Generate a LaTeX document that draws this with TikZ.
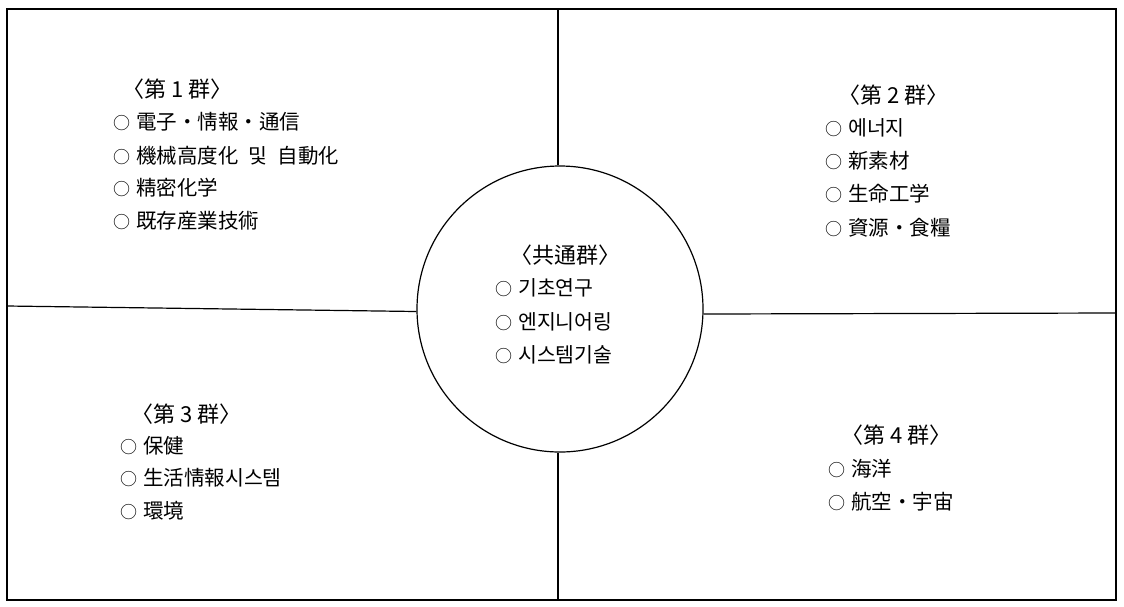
\documentclass[tikz,border=0pt]{standalone}
\usepackage{fontspec}
\setmainfont{Noto Sans CJK KR}
\begin{document}
\begin{tikzpicture}[x=1pt,y=-1pt,
  frame/.style={draw=black,line width=1.3pt},
  sep/.style={draw=black,line width=1.2pt},
  ttl/.style={anchor=west,inner sep=0pt,font=\fontsize{22}{22}\selectfont},
  itm/.style={anchor=west,inner sep=0pt,font=\fontsize{20.5}{21}\selectfont}]
\useasboundingbox (0,0) rectangle (1124,606);
\newcommand{\mk}{{\fontsize{17}{17}\selectfont ○}\hspace{6pt}}
\newcommand{\nsp}{\hspace{5pt}}
% frame
\coordinate (tl) at (7,9);
\coordinate (br) at (1116,600);
\draw[frame] (tl) rectangle (br);
% circle
\node[draw=black,line width=1.2pt,circle,minimum size=286pt,inner sep=0pt] (circ) at (560,309) {};
\coordinate (topm) at (558,9);
\coordinate (botm) at (558,600);
\coordinate (lft) at (7,306);
\coordinate (rgt) at (1116,313);
\draw[sep] (topm) -- (topm |- circ.north);
\draw[sep] (botm) -- (botm |- circ.south);
\draw[sep] (lft) -- (circ.181);
\draw[sep] (rgt) -- (circ.-2);
% group 1
\node[ttl] (g1) at (122,89) {〈第\nsp{}1\nsp{}群〉};
\node[itm] (g1a) at (113,122) {\mk{}電子・情報・通信};
\node[itm] (g1b) at (113,156) {\mk{}機械高度化\hspace{10pt}및\hspace{10pt}自動化};
\node[itm] (g1c) at (113,188) {\mk{}精密化学};
\node[itm] (g1d) at (113,221) {\mk{}既存産業技術};
% group 2
\node[ttl] (g2) at (838,95) {〈第\nsp{}2\nsp{}群〉};
\node[itm] (g2a) at (825,128) {\mk{}에너지};
\node[itm] (g2b) at (825,161) {\mk{}新素材};
\node[itm] (g2c) at (825,194) {\mk{}生命工学};
\node[itm] (g2d) at (825,228) {\mk{}資源・食糧};
% common group
\node[ttl] (g0) at (510,255) {〈共通群〉};
\node[itm] (g0a) at (495,288) {\mk{}기초연구};
\node[itm] (g0b) at (495,322) {\mk{}엔지니어링};
\node[itm] (g0c) at (495,355) {\mk{}시스템기술};
% group 3
\node[ttl] (g3) at (131,414) {〈第\nsp{}3\nsp{}群〉};
\node[itm] (g3a) at (120,446) {\mk{}保健};
\node[itm] (g3b) at (120,478) {\mk{}生活情報시스템};
\node[itm] (g3c) at (120,511) {\mk{}環境};
% group 4
\node[ttl] (g4) at (841,435) {〈第\nsp{}4\nsp{}群〉};
\node[itm] (g4a) at (828,469) {\mk{}海洋};
\node[itm] (g4b) at (828,502) {\mk{}航空・宇宙};
\end{tikzpicture}
\end{document}
